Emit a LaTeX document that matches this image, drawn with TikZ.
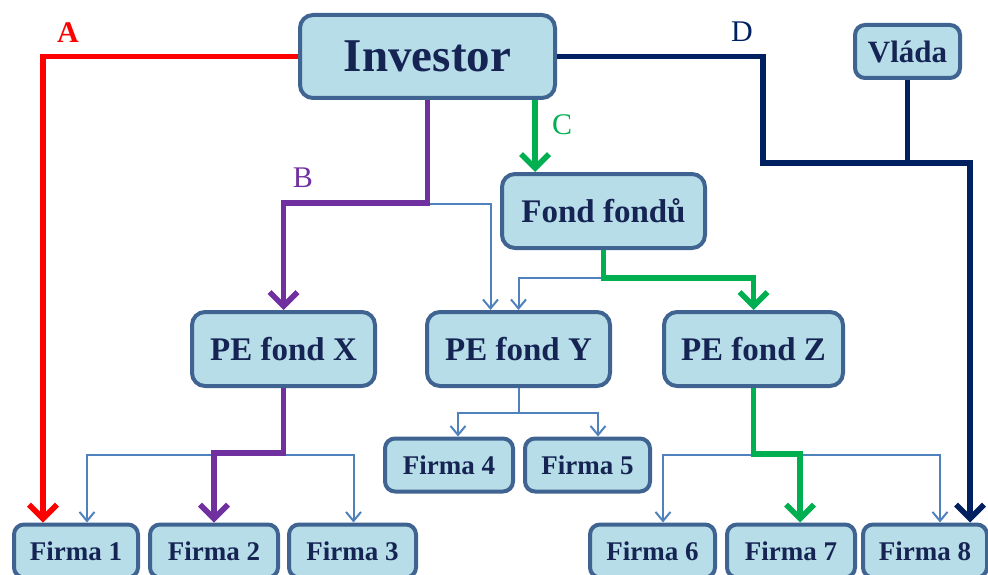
\documentclass[tikz,border=0pt]{standalone}
\usepackage{fontspec}
\setmainfont{Liberation Serif}
\usetikzlibrary{arrows.meta}
\definecolor{boxfill}{HTML}{B7DDE8}
\definecolor{boxdraw}{HTML}{3F6491}
\definecolor{txt}{RGB}{22,36,84}
\definecolor{lred}{HTML}{FF0000}
\definecolor{lpurple}{HTML}{7030A0}
\definecolor{lgreen}{HTML}{00B050}
\definecolor{lnavy}{HTML}{002060}
\definecolor{lthin}{HTML}{4F81BD}
\tikzset{
  box/.style={draw=boxdraw, fill=boxfill, line width=4, rounded corners=13,
    text=txt, font=\bfseries, inner sep=0, align=center},
  bigbox/.style={box, font=\fontsize{47}{50}\selectfont\bfseries},
  midbox/.style={box, font=\fontsize{33}{36}\selectfont\bfseries},
  firm/.style={box, rounded corners=10, minimum height=53, font=\fontsize{27}{30}\selectfont\bfseries},
  thick/.style={line width=5.5, -{Straight Barb[length=14,width=28]}},
  thinl/.style={draw=lthin, line width=2, -{Straight Barb[length=9,width=15]}},
  lab/.style={font=\fontsize{30}{32}\selectfont},
}
\begin{document}
\begin{tikzpicture}[x=1pt,y=-1pt]
\useasboundingbox (0,0) rectangle (988,575);
\clip (0,0) rectangle (988,575);
% nodes
\node[bigbox, minimum width=255, minimum height=83] (inv) at (427.5,56.5) {Investor};
\node[box, rounded corners=10, minimum width=105, minimum height=53,
  font=\fontsize{31}{34}\selectfont\bfseries] (vlada) at (907.5,51.5) {Vláda};
\node[midbox, minimum width=203, minimum height=74] (ff) at (603.5,211) {Fond fondů};
\node[midbox, minimum width=183, minimum height=74] (pex) at (283.5,349) {PE fond X};
\node[midbox, minimum width=183, minimum height=74] (pey) at (518.5,349) {PE fond Y};
\node[midbox, minimum width=179, minimum height=74] (pez) at (753.5,349) {PE fond Z};
\node[firm, minimum width=128] (f4) at (449,465) {Firma 4};
\node[firm, minimum width=125] (f5) at (587.5,465) {Firma 5};
\node[firm, minimum width=124] (f1) at (76,551) {Firma 1};
\node[firm, minimum width=128] (f2) at (214,551) {Firma 2};
\node[firm, minimum width=127] (f3) at (352.5,551) {Firma 3};
\node[firm, minimum width=125] (f6) at (652.5,551) {Firma 6};
\node[firm, minimum width=128] (f7) at (791,551) {Firma 7};
\node[firm, minimum width=124] (f8) at (925,551) {Firma 8};
% labels
\node[lab, text=lred, font=\fontsize{30}{32}\selectfont\bfseries] (la) at (68,33) {A};
\node[lab, text=lpurple] (lb) at (303,178) {B};
\node[lab, text=lgreen] (lc) at (562,125) {C};
\node[lab, text=lnavy] (ld) at (742,32) {D};
% coordinates
\coordinate (dturn) at (763,163);
\coordinate (cstart) at ([xshift=107.5]inv.south);
% thin connectors
\draw[thinl] (inv.south) -- ++(0,104) -| ([xshift=-28]pey.north);
\draw[thinl] (ff.south) -- ++(0,28) -| (pey.north);
\draw[thinl] (pex.south) -- ++(0,67) -| ([xshift=11]f1.north);
\draw[thinl] (pex.south) -- ++(0,67) -| ([xshift=1]f3.north);
\draw[thinl] (pey.south) -- ++(0,25) -| ([xshift=9]f4.north);
\draw[thinl] (pey.south) -- ++(0,25) -| ([xshift=10.5]f5.north);
\draw[thinl] (pez.south) -- ++(0,67) -| ([xshift=10.5]f6.north);
\draw[thinl] (pez.south) -- ++(0,67) -| ([xshift=15]f8.north);
% thick connectors
\draw[thick, lred] (inv.west) -| ([xshift=-33]f1.north);
\draw[thick, lpurple] (inv.south) -- ++(0,103) -| (pex.north);
\draw[thick, lpurple] (pex.south) -- ++(0,65) -| (f2.north);
\draw[thick, lgreen] (cstart) -- (cstart |- ff.north);
\draw[thick, lgreen] (ff.south) -- ++(0,28) -| (pez.north);
\draw[thick, lgreen] (pez.south) -- ++(0,66) -| ([xshift=9]f7.north);
\draw[thick, lnavy] (inv.east) -| (dturn) -| ([xshift=45]f8.north);
\draw[line width=5.5, lnavy] (vlada.south) -- (vlada.south |- dturn);
\end{tikzpicture}
\end{document}
